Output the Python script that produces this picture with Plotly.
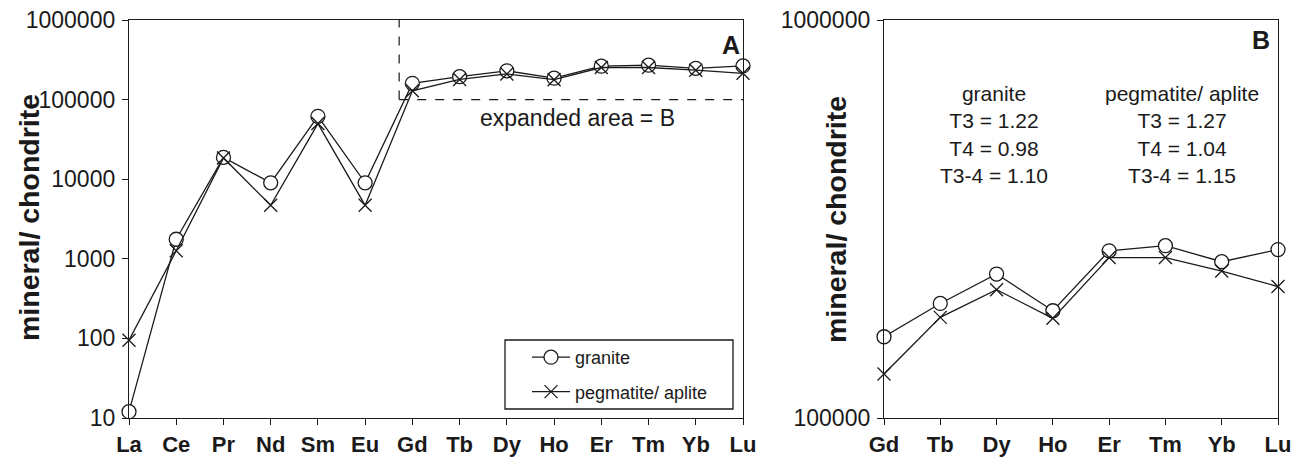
import plotly.graph_objects as go

# ---------------- data ----------------
elements = ["La", "Ce", "Pr", "Nd", "Sm", "Eu", "Gd", "Tb", "Dy", "Ho", "Er", "Tm", "Yb", "Lu"]
granite = [12, 1760, 18800, 9000, 61600, 9000, 160000, 194000, 230000, 186000, 263000, 271000, 247000, 265000]
pegmatite = [95, 1260, 18500, 4700, 50000, 4700, 129000, 179000, 210000, 178000, 253000, 253000, 234000, 214000]

hree = elements[6:]
granite_b = granite[6:]
pegmatite_b = pegmatite[6:]

yticks_a = [10, 100, 1000, 10000, 100000, 1000000]
yticks_b = [100000, 1000000]

FONT = "Arial, Liberation Sans, sans-serif"
INK = "#1a1a1a"

xa = list(range(len(elements)))
xb = list(range(len(hree)))

fig = go.Figure()

circle_marker = dict(symbol="circle", size=14, color="white", line=dict(color=INK, width=1.3))
x_marker = dict(symbol="x-thin", size=13, color=INK, line=dict(color=INK, width=1.3))

fig.add_trace(go.Scatter(x=xa, y=granite, name="granite", mode="lines+markers",
                         line=dict(color=INK, width=1.3), marker=circle_marker,
                         cliponaxis=False, xaxis="x", yaxis="y", legendgroup="g"))
fig.add_trace(go.Scatter(x=xa, y=pegmatite, name="pegmatite/ aplite", mode="lines+markers",
                         line=dict(color=INK, width=1.3), marker=x_marker,
                         cliponaxis=False, xaxis="x", yaxis="y", legendgroup="p"))
fig.add_trace(go.Scatter(x=xb, y=granite_b, name="granite", mode="lines+markers",
                         line=dict(color=INK, width=1.3), marker=circle_marker,
                         cliponaxis=False, xaxis="x2", yaxis="y2", showlegend=False))
fig.add_trace(go.Scatter(x=xb, y=pegmatite_b, name="pegmatite/ aplite", mode="lines+markers",
                         line=dict(color=INK, width=1.3), marker=x_marker,
                         cliponaxis=False, xaxis="x2", yaxis="y2", showlegend=False))

W, H = 1308, 457
ydom = [1 - 418 / H, 1 - 20 / H]

axis_common = dict(showline=True, linecolor=INK, linewidth=1.3, mirror=True, ticks="outside",
                   ticklen=6, tickwidth=1, tickcolor=INK, showgrid=False, zeroline=False,
                   automargin=False)

fig.update_layout(
    width=W, height=H,
    margin=dict(l=0, r=0, t=0, b=0),
    paper_bgcolor="white", plot_bgcolor="white",
    font=dict(family=FONT, color=INK),
    xaxis=dict(domain=[129 / W, 743 / W], range=[0, len(elements) - 1], tickvals=xa, ticktext=elements,
               tickfont=dict(size=22, weight="bold"), anchor="y", **axis_common),
    yaxis=dict(domain=ydom, type="log", range=[1, 6], tickvals=yticks_a,
               ticktext=[str(v) for v in yticks_a], tickfont=dict(size=23), anchor="x",
               ticklabelstandoff=2, **axis_common),
    xaxis2=dict(domain=[884 / W, 1278 / W], range=[0, len(hree) - 1], tickvals=xb, ticktext=hree,
                tickfont=dict(size=22, weight="bold"), anchor="y2", **axis_common),
    yaxis2=dict(domain=ydom, type="log", range=[5, 6], tickvals=yticks_b,
                ticktext=[str(v) for v in yticks_b], tickfont=dict(size=23), anchor="x2",
                ticklabelstandoff=2, **axis_common),
    showlegend=True,
    legend=dict(x=527 / W, y=1 - 339 / H, xanchor="left", yanchor="top",
                font=dict(size=18), bgcolor="rgba(0,0,0,0)", borderwidth=0,
                traceorder="grouped", tracegroupgap=8, itemwidth=38),
)

# dashed "expanded area" outline
fig.add_shape(type="line", xref="x", yref="y domain", x0=5.72, x1=5.72, y0=0.8, y1=1.0,
              line=dict(color=INK, width=1.2, dash="dash"))
fig.add_shape(type="line", xref="x", yref="y domain", x0=5.72, x1=13, y0=0.8, y1=0.8,
              line=dict(color=INK, width=1.2, dash="dash"))
# legend frame
fig.add_shape(type="rect", xref="paper", yref="paper", x0=505 / W, x1=733 / W,
              y0=1 - 409 / H, y1=1 - 340 / H, line=dict(color=INK, width=1.3))

ann = []
ann.append(dict(text="expanded area = B", xref="x", yref="y domain", x=9.49, y=(418 - 118) / 398,
                yanchor="middle", showarrow=False, font=dict(size=23)))
ann.append(dict(text="<b>A</b>", xref="x domain", yref="y domain", x=0.998, y=(418 - 45) / 398,
                xanchor="right", yanchor="middle", showarrow=False, font=dict(size=25)))
ann.append(dict(text="<b>B</b>", xref="x2 domain", yref="y2 domain", x=0.985, y=(418 - 40) / 398,
                xanchor="right", yanchor="middle", showarrow=False, font=dict(size=25)))
ann.append(dict(text="granite<br>T3 = 1.22<br>T4 = 0.98<br>T3-4 = 1.10", xref="x2", yref="y2 domain",
                x=1.95, y=(418 - 134) / 398, yanchor="middle", showarrow=False, font=dict(size=21),
                align="center"))
ann.append(dict(text="pegmatite/ aplite<br>T3 = 1.27<br>T4 = 1.04<br>T3-4 = 1.15", xref="x2",
                yref="y2 domain", x=5.29, y=(418 - 134) / 398, yanchor="middle", showarrow=False,
                font=dict(size=21), align="center"))
ann.append(dict(text="<b>mineral/ chondrite</b>", xref="paper", yref="paper", x=29 / W, y=1 - 218 / H,
                xanchor="center", yanchor="middle", textangle=-90, showarrow=False, font=dict(size=28.5)))
ann.append(dict(text="<b>mineral/ chondrite</b>", xref="paper", yref="paper", x=836 / W, y=1 - 220 / H,
                xanchor="center", yanchor="middle", textangle=-90, showarrow=False, font=dict(size=28.5)))
fig.update_layout(annotations=ann)

fig.write_html("out.html")
